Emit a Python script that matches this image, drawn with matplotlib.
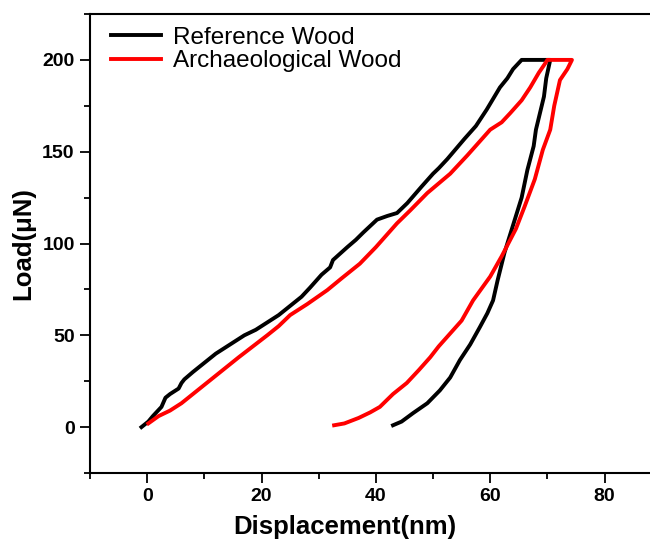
import matplotlib
matplotlib.use("Agg")
import matplotlib.pyplot as plt
from matplotlib.ticker import MultipleLocator

plt.rcParams['font.family'] = ['Liberation Sans', 'DejaVu Sans']

# reference wood: loading, hold, unloading (nm, uN)
ref_x = [-1.0, 0.2, 1.0, 2.5, 3.2, 4.0, 5.5, 6.0, 6.5, 8.0, 10.0, 12.0, 14.5, 17.0, 19.0, 21.0, 23.0,
         25.0, 27.0, 28.5, 30.5, 32.0, 32.5, 35.0, 36.5, 37.8, 40.2, 42.0, 43.7, 45.5, 48.0, 50.0,
         51.0, 52.5, 55.5, 57.5, 59.4, 61.7, 63.0, 64.0, 65.5,
         67.0, 68.5, 70.5,
         69.8, 69.4, 68.7, 68.0, 67.6, 66.5, 65.5, 64.0, 62.5, 61.3, 60.5, 59.5, 58.2, 56.5, 54.7,
         53.0, 51.2, 49.0, 46.5, 44.5, 43.0]
ref_y = [0.0, 3.0, 6.0, 11.0, 16.0, 18.0, 21.0, 24.0, 26.0, 30.0, 35.0, 40.0, 45.0, 50.0, 53.0, 57.0, 61.0,
         66.0, 71.0, 76.0, 83.0, 87.0, 91.0, 98.0, 102.0, 106.0, 113.0, 115.0, 116.6, 122.0, 131.0, 138.0,
         141.0, 146.0, 157.0, 164.0, 173.0, 185.0, 190.0, 195.0, 200.0,
         200.0, 200.0, 200.0,
         190.0, 180.0, 171.0, 162.0, 153.0, 140.0, 125.0, 110.0, 95.0, 80.0, 69.0, 62.0, 54.5, 45.0, 36.5,
         27.0, 20.0, 13.0, 7.6, 3.0, 1.0]

# archaeological wood
arc_x = [0.2, 2.0, 4.0, 6.0, 8.0, 10.0, 12.0, 14.0, 16.0, 18.5, 21.0, 23.0, 25.0, 28.0,
         31.5, 34.0, 37.2, 40.0, 43.7, 46.0, 49.0, 53.0, 56.0, 58.0, 60.0, 62.0, 63.5,
         65.5, 67.0, 68.5, 69.6, 70.0,
         72.0, 74.3,
         73.5, 72.2, 71.2, 70.5, 69.2, 67.8, 66.0, 64.5, 62.0, 60.0, 57.0, 55.0, 53.0,
         51.0, 49.5, 47.5, 45.4, 43.0, 40.7, 39.0, 37.0, 34.5, 32.7]
arc_y = [2.0, 6.0, 9.0, 13.0, 18.0, 23.0, 28.0, 33.0, 38.0, 44.0, 50.0, 55.0, 61.0, 67.0,
         74.6, 81.0, 89.0, 98.0, 111.0, 118.0, 127.5, 138.0, 148.0, 155.0, 162.0, 166.0, 171.0,
         178.0, 185.0, 193.0, 198.0, 200.0,
         200.0, 200.0,
         195.0, 189.0, 175.0, 162.0, 151.0, 135.0, 120.0, 108.0, 93.0, 82.0, 69.0, 58.0, 51.0,
         44.0, 38.0, 31.0, 24.0, 18.0, 11.0, 8.0, 5.0, 2.0, 1.0]

fig = plt.figure(figsize=(6.5, 5.45), dpi=100)
ax = fig.add_axes([90 / 650, 72 / 545, 562 / 650, 459 / 545])

ax.plot(ref_x, ref_y, color='black', lw=2.8, label='Reference Wood')
ax.plot(arc_x, arc_y, color='#ff0000', lw=2.8, label='Archaeological Wood')

ax.set_xlim(-10, 88.3)
ax.set_ylim(-25, 225)
ax.xaxis.set_major_locator(MultipleLocator(20))
ax.xaxis.set_minor_locator(MultipleLocator(10))
ax.yaxis.set_major_locator(MultipleLocator(50))
ax.yaxis.set_minor_locator(MultipleLocator(25))
ax.tick_params(which='both', direction='out', width=1.3, labelsize=14, pad=4)
ax.tick_params(which='major', length=7)
ax.tick_params(which='minor', length=4)
for lab in ax.get_xticklabels() + ax.get_yticklabels():
    lab.set_fontweight('bold')
for s in ax.spines.values():
    s.set_linewidth(1.5)
ax.spines['right'].set_visible(False)

ax.set_xlabel('Displacement(nm)', fontsize=18.5, fontweight='bold', labelpad=7)
ax.xaxis.label.set_x(0.454)
ax.set_ylabel('Load(μN)', fontsize=18.5, fontweight='bold', labelpad=5)

leg = ax.legend(loc='upper left', bbox_to_anchor=(0.024, 0.988), frameon=False,
                fontsize=17.5, handlelength=2.05, handletextpad=0.5,
                borderaxespad=0, borderpad=0.3, labelspacing=0.05)
for h in leg.get_lines():
    h.set_linewidth(2.8)

fig.savefig('out.png', dpi=100)
